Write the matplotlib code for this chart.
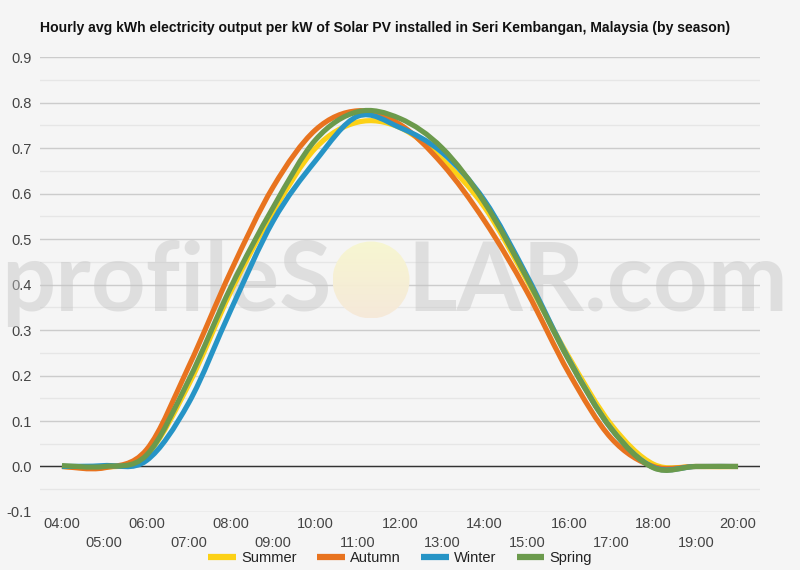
import numpy as np
import matplotlib
matplotlib.use('Agg')
import matplotlib.pyplot as plt
from matplotlib.path import Path
from matplotlib.patches import PathPatch, Ellipse
from matplotlib.lines import Line2D
from matplotlib.ticker import MultipleLocator, FuncFormatter
from matplotlib.colors import LinearSegmentedColormap

plt.rc('font', family='Liberation Sans', size=10.5)

# hours of the day (04:00 .. 20:00)
hours = list(range(4, 21))
hour_labels = ['%02d:00' % h for h in hours]

seasons = ['Summer', 'Autumn', 'Winter', 'Spring']
colors = ['#fcd116', '#e8731f', '#2694c6', '#6b9a4c']

summer = [0.0, -0.002, 0.025, 0.18, 0.385, 0.56, 0.7, 0.757, 0.745, 0.675, 0.57, 0.41, 0.24, 0.092, 0.005, 0.0, 0.0]
autumn = [0.0, -0.003, 0.037, 0.22, 0.43, 0.615, 0.74, 0.782, 0.752, 0.665, 0.54, 0.385, 0.205, 0.062, 0.0, 0.0, 0.0]
winter = [0.0, 0.002, 0.013, 0.14, 0.345, 0.54, 0.672, 0.77, 0.745, 0.69, 0.585, 0.42, 0.235, 0.083, -0.002, 0.0, 0.0]
spring = [0.002, 0.0, 0.025, 0.19, 0.395, 0.57, 0.718, 0.78, 0.765, 0.7, 0.58, 0.415, 0.233, 0.083, -0.003, 0.0, 0.0]

title = 'Hourly avg kWh electricity output per kW of Solar PV installed in Seri Kembangan, Malaysia (by season)'
BG = '#f5f5f5'


def smooth_path(x, y):
    """Catmull-Rom style smooth curve through the points, as bezier segments."""
    pts = np.column_stack([np.asarray(x, float), np.asarray(y, float)])
    ext = np.vstack([pts[0], pts, pts[-1]])
    verts = [pts[0]]
    codes = [Path.MOVETO]
    for i in range(len(pts) - 1):
        p0, p1, p2, p3 = ext[i], ext[i + 1], ext[i + 2], ext[i + 3]
        verts += [p1 + (p2 - p0) / 6, p2 - (p3 - p1) / 6, p2]
        codes += [Path.CURVE4] * 3
    return Path(verts, codes)


fig = plt.figure(figsize=(8, 5.7), dpi=100, facecolor=BG)
ax = fig.add_axes([0.05, 0.1018, 0.9, 0.798], facecolor=BG)
ax.set_xlim(3.48, 20.52)
ax.set_ylim(-0.1, 0.9)

for s in ax.spines.values():
    s.set_visible(False)

ax.yaxis.set_major_locator(MultipleLocator(0.1))
ax.yaxis.set_minor_locator(MultipleLocator(0.05))
ax.yaxis.set_major_formatter(FuncFormatter(lambda v, p: '%.1f' % v))
ax.grid(True, axis='y', which='major', color='#cccccc', lw=1, zorder=0)
ax.grid(True, axis='y', which='minor', color='#e6e6e6', lw=1, zorder=0)
ax.axhline(0, color='#333333', lw=1, zorder=1.5)
ax.set_axisbelow(True)

# two rows of hour labels: even hours on top, odd hours below
ax.set_xticks(hours[::2])
ax.set_xticklabels(hour_labels[::2])
ax.set_xticks(hours[1::2], minor=True)
ax.set_xticklabels(hour_labels[1::2], minor=True)
ax.tick_params(axis='x', which='major', length=0, pad=3.5, colors='#444444')
ax.tick_params(axis='x', which='minor', length=0, pad=17, colors='#444444')
ax.tick_params(axis='y', which='both', length=0, pad=6, colors='#444444')

# watermark
fig.canvas.draw()
renderer = fig.canvas.get_renderer()
wm = dict(family='Lato', weight='bold', color='#c4c4c4', alpha=0.45,
          zorder=1, clip_on=False, transform=fig.transFigure, va='baseline')
t1 = ax.text(332 / 800, 1 - 311 / 570, 'profileS', ha='right', fontsize=80, **wm)
t2 = ax.text(407 / 800, 1 - 311 / 570, 'LAR.com', ha='left', fontsize=80, **wm)
w = t1.get_window_extent(renderer).width + t2.get_window_extent(renderer).width
fs = 80 * 711 / w
t1.set_fontsize(fs)
t2.set_fontsize(fs)

# the "O" is a pale sun with a yellow-to-peach gradient
sun = Ellipse((371 / 800, 1 - 280 / 570), 77 / 800, 77 / 570,
              transform=fig.transFigure, facecolor='none', edgecolor='none')
ax.add_patch(sun)
inv = ax.transData.inverted()
(x0, y0), (x1, y1) = inv.transform([(332.5, 570 - 318.5), (409.5, 570 - 241.5)])
sun_cmap = LinearSegmentedColormap.from_list('sun', ['#f6e9d9', '#f8f6cf'])
img = ax.imshow(np.linspace(0, 1, 64).reshape(-1, 1), cmap=sun_cmap, origin='lower',
                extent=(x0, x1, y0, y1), aspect='auto', zorder=1.2, alpha=0.95)
img.set_clip_path(sun)
ax.set_xlim(3.48, 20.52)
ax.set_ylim(-0.1, 0.9)

for name, vals, c in zip(seasons, [summer, autumn, winter, spring], colors):
    ax.add_patch(PathPatch(smooth_path(hours, vals), fill=False, edgecolor=c,
                           lw=3.7, capstyle='butt', joinstyle='round', zorder=3))

handles = [Line2D([], [], color=c, lw=4.5, solid_capstyle='butt') for c in colors]
fig.legend(handles, seasons, loc='center', bbox_to_anchor=(0.5, 0.021), ncol=4,
           frameon=False, handlelength=1.9, handletextpad=0.35,
           columnspacing=1.4, fontsize=10.5, labelcolor='#222222')

fig.text(0.05, 1 - 28 / 570, title, ha='left', va='center',
         fontsize=10.1, weight='bold', color='#111111')

fig.savefig('out.png', dpi=100, facecolor=BG)
